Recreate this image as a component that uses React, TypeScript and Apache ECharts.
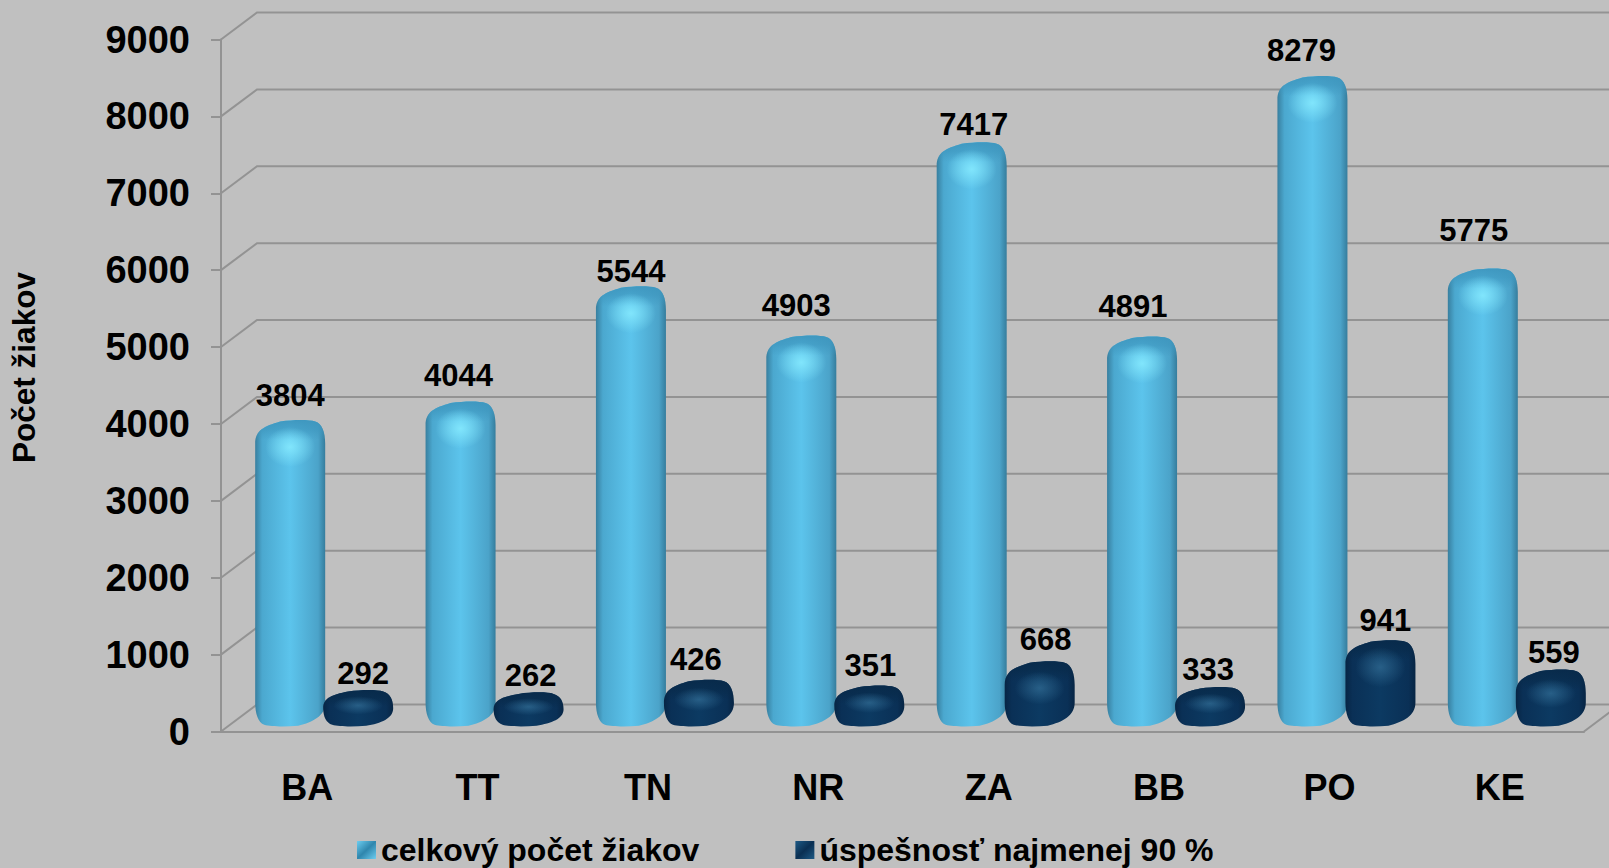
import React, { useEffect, useRef } from "react";
import * as echarts from "echarts";

const categories = ["BA", "TT", "TN", "NR", "ZA", "BB", "PO", "KE"];
const totalStudents = [3804, 4044, 5544, 4903, 7417, 4891, 8279, 5775];
const successful = [292, 262, 426, 351, 668, 333, 941, 559];
const tickValues = [0, 1000, 2000, 3000, 4000, 5000, 6000, 7000, 8000, 9000];
const totalName = "celkový počet žiakov";
const successName = "úspešnosť najmenej 90 %";
const axisTitle = "Počet žiakov";

// hand-placed label nudges of the source chart: [dx, distance above bar top]
const totalLabelDx = [0, -2, 0, -5, 2, -9, -11, -9];
const totalLabelLift = [25, 26, 15, 30, 18, 30, 25, 38];
const successLabelDx = [5, 2, -3, 1, 6, -2, 5, 3];
const successLabelLift = [17, 17, 20, 20, 22, 17, 20, 17];

const FONT = '"Liberation Sans", Arial, sans-serif';
const DEPTH_X = 36;
const DEPTH_Y = 27;
const BAR_W = 70;
const GRID_COLOR = "#939393";

function barPath(l: number, r: number, t: number, b: number) {
  const h = b - t;
  const c = Math.min(24, h * 0.5);
  const mid = (l + r) / 2;
  return [
    `M${l} ${t + c}`,
    `C${l} ${t + c * 0.45} ${l + 9} ${t + c * 0.28} ${mid - 10} ${t + 2}`,
    `C${mid + 4} ${t} ${r - 16} ${t} ${r - 10} ${t + 2}`,
    `C${r - 3} ${t + 4} ${r} ${t + c * 0.55} ${r} ${t + c}`,
    `L${r} ${b - c}`,
    `C${r} ${b - c * 0.45} ${r - 12} ${b - c * 0.2} ${mid + 8} ${b - 1}`,
    `C${mid - 4} ${b} ${l + 16} ${b} ${l + 9} ${b - 2}`,
    `C${l + 3} ${b - 4} ${l} ${b - c * 0.55} ${l} ${b - c}`,
    "Z",
  ].join(" ");
}

function hGrad(stops: string[]) {
  const offs = [0, 0.1, 0.5, 0.9, 1];
  return new echarts.graphic.LinearGradient(
    0, 0, 1, 0,
    stops.map((color, i) => ({ offset: offs[i], color })),
  );
}

function makeBarRenderer(
  labels: number[],
  dxs: number[],
  lifts: number[],
  xShift: number,
  stops: string[],
  capRgb: string,
  glowRgb: string,
  glowAlpha: number,
) {
  return (params: any, api: any) => {
    const i = params.dataIndex;
    const v = api.value(1);
    const top = api.coord([i, v]);
    const base = api.coord([i, 0]);
    const cx = top[0] + xShift;
    const t = top[1] - 19;
    const b = base[1] - 5;
    const l = cx - BAR_W / 2;
    const r = cx + BAR_W / 2;
    const h = b - t;
    const d = barPath(l, r, t, b);
    const layout = { layout: "cover", x: l, y: t, width: BAR_W, height: h };
    const glowY = t + Math.min(h * 0.42, 27);
    const glowRy = Math.min(20, h * 0.25);
    const capEnd = Math.min(0.45, 20 / h);
    return {
      type: "group",
      children: [
        {
          type: "path",
          shape: { pathData: d, ...layout },
          style: { fill: hGrad(stops) },
        },
        {
          type: "path",
          shape: { pathData: d, ...layout },
          style: {
            fill: new echarts.graphic.LinearGradient(0, 0, 0, 1, [
              { offset: 0, color: `rgba(${capRgb},0.95)` },
              { offset: capEnd * 0.45, color: `rgba(${capRgb},0.7)` },
              { offset: capEnd, color: `rgba(${capRgb},0)` },
              { offset: 1, color: `rgba(${capRgb},0)` },
            ]),
          },
        },
        {
          type: "ellipse",
          shape: { cx: cx, cy: glowY, rx: 25, ry: glowRy },
          style: {
            fill: new echarts.graphic.RadialGradient(0.5, 0.5, 0.5, [
              { offset: 0, color: `rgba(${glowRgb},${glowAlpha})` },
              { offset: 1, color: `rgba(${glowRgb},0)` },
            ]),
          },
        },
        {
          type: "text",
          style: {
            text: String(labels[i]),
            x: cx + dxs[i],
            y: t - lifts[i],
            align: "center",
            verticalAlign: "middle",
            font: `bold 31px ${FONT}`,
            fill: "#000",
          },
        },
      ],
    };
  };
}

function wallRenderer(params: any, api: any) {
  const v = api.value(1);
  const p = api.coord([0, v]);
  const size = api.size([1, 0]);
  const x0 = p[0] - size[0] / 2;
  const y = p[1];
  const style = { stroke: GRID_COLOR, lineWidth: 2, fill: "none" };
  const children: any[] = [
    {
      type: "polyline",
      shape: { points: [[x0, y], [x0 + DEPTH_X, y - DEPTH_Y], [1620, y - DEPTH_Y]] },
      style,
    },
  ];
  if (v === 0) {
    const xR = x0 + size[0] * categories.length;
    children.push({
      type: "line",
      shape: { x1: xR, y1: y, x2: xR + DEPTH_X, y2: y - DEPTH_Y },
      style,
    });
  }
  return { type: "group", children };
}

function legendGrad(edge: string, centre: string) {
  return new echarts.graphic.LinearGradient(0, 0, 1, 1, [
    { offset: 0, color: centre },
    { offset: 0.5, color: edge },
    { offset: 1, color: centre },
  ]);
}

export default function App() {
  const ref = useRef<HTMLDivElement>(null);
  useEffect(() => {
    document.body.style.margin = "0";
    document.body.style.background = "#c0c0c0";
    const chart = echarts.init(ref.current!, undefined, { renderer: "svg" });
    chart.setOption({
      animation: false,
      backgroundColor: "#c0c0c0",
      textStyle: { fontFamily: FONT },
      grid: { left: 221, right: 25, top: 39.5, bottom: 136.5, containLabel: false },
      legend: {
        left: 352,
        top: 829,
        data: [
          { name: totalName, icon: "rect", itemStyle: { color: legendGrad("#2f86ad", "#6ccdf0") } },
          { name: successName, icon: "rect", itemStyle: { color: legendGrad("#0a2f52", "#1d5a86") } },
        ],
        itemWidth: 19,
        itemHeight: 18,
        itemGap: 96,
        textStyle: { fontSize: 32, fontWeight: "bold", color: "#000", fontFamily: FONT, padding: [5, 0, 0, 0] },
      },
      xAxis: {
        type: "category",
        data: categories,
        axisLine: { show: true, lineStyle: { color: GRID_COLOR, width: 2 } },
        axisTick: { show: false },
        axisLabel: { fontSize: 36, fontWeight: "bold", color: "#000", margin: 38, fontFamily: FONT, padding: [0, 0, 0, 2] },
      },
      yAxis: {
        type: "value",
        min: 0,
        max: 9000,
        interval: 1000,
        name: axisTitle,
        nameLocation: "middle",
        nameRotate: 90,
        nameGap: 181,
        nameTextStyle: { fontSize: 31.5, fontWeight: "bold", color: "#000", fontFamily: FONT, padding: [0, 0, 0, 36] },
        axisLine: { show: true, lineStyle: { color: GRID_COLOR, width: 2 } },
        axisTick: { show: true, length: 10, lineStyle: { color: GRID_COLOR, width: 2 } },
        splitLine: { show: false },
        axisLabel: { fontSize: 38, fontWeight: "bold", color: "#000", margin: 31, fontFamily: FONT, padding: [5, 0, 0, 0], formatter: (v: number) => String(v) },
      },
      series: [
        {
          type: "custom",
          name: "walls",
          z: 1,
          silent: true,
          renderItem: wallRenderer,
          encode: { x: 0, y: 1 },
          data: tickValues.map((v) => [0, v]),
        },
        {
          type: "custom",
          name: totalName,
          z: 3,
          renderItem: makeBarRenderer(
            totalStudents, totalLabelDx, totalLabelLift, -16,
            ["#387f9f", "#4ba8cf", "#5cc4ec", "#4ba3c9", "#357d9d"],
            "62,150,190",
            "135,235,255",
            0.85,
          ),
          encode: { x: 0, y: 1 },
          itemStyle: { color: "#58bde4" },
          data: totalStudents.map((v, i) => [i, v]),
        },
        {
          type: "custom",
          name: successName,
          z: 4,
          renderItem: makeBarRenderer(
            successful, successLabelDx, successLabelLift, 52,
            ["#072544", "#0a3056", "#0c3a62", "#0a3056", "#072544"],
            "8,42,74",
            "62,125,165",
            0.55,
          ),
          encode: { x: 0, y: 1 },
          itemStyle: { color: "#0f3c66" },
          data: successful.map((v, i) => [i, v]),
        },
      ],
    });
    return () => chart.dispose();
  }, []);
  return <div ref={ref} style={{ width: 1609, height: 868 }} />;
}
